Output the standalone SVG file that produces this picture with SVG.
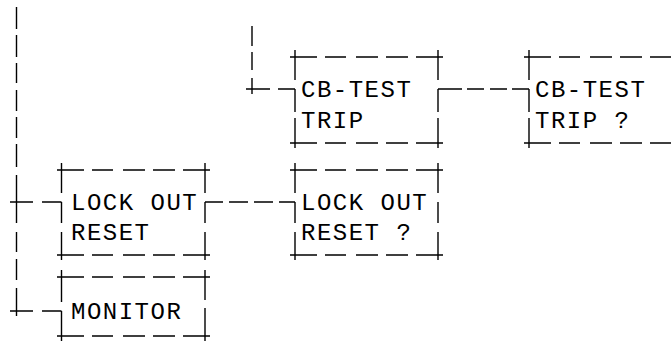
<svg xmlns="http://www.w3.org/2000/svg" width="671" height="341" viewBox="0 0 671 341">
<style>
.ln{fill:none;stroke:#000;stroke-width:1.4}
.t{font-family:"Liberation Mono","DejaVu Sans Mono",monospace;font-size:24px;letter-spacing:1.5px;fill:#000}
</style>
<rect width="671" height="341" fill="#fff"/>
<g id="connectors">
<path class="ln" d="M16.5 7V29M16.5 35V57M16.5 63V83M16.5 90V111M16.5 117V138M16.5 144V167M16.5 175V223M16.5 232V252M16.5 259V280M16.5 288V316"/>
<path class="ln" d="M10 202H33M42 202H61.5"/>
<path class="ln" d="M10 311H33M42 311H61.5"/>
<path class="ln" d="M252 26V46M252 52V70M252 78V94M246 89H270M278 89H295"/>
<path class="ln" d="M205 202H223M229 202H248M254 202H273M279 202H295"/>
<path class="ln" d="M438 89H462M467 89H484M490 89H507M512 89H529"/>
</g>
<g id="lockout-reset">
<path class="ln" d="M57 170H84M92 170H113M123 170H145M153 170H175M183 170H210M57 255H84M92 255H113M123 255H145M153 255H175M183 255H210M61.5 163V193M61.5 202V223M61.5 232V260M205 163V193M205 202V223M205 232V260"/>
<text class="t" x="71" y="210">LOCK OUT</text>
<text class="t" x="71" y="240">RESET</text>
</g>
<g id="monitor">
<path class="ln" d="M57 277H84M92 277H113M123 277H145M153 277H175M183 277H210M57 336H84M92 336H113M123 336H145M153 336H175M183 336H210M61.5 270V302M61.5 311V341M205 270V300M205 308V341"/>
<text class="t" x="71" y="319">MONITOR</text>
</g>
<g id="lockout-reset-q">
<path class="ln" d="M290 170H317M325 170H346M356 170H378M386 170H408M416 170H443M290 255H317M325 255H346M356 255H378M386 255H408M416 255H443M295 163V193M295 202V223M295 232V260M438 163V193M438 202V223M438 232V260"/>
<text class="t" x="301" y="210">LOCK OUT</text>
<text class="t" x="301" y="240">RESET ?</text>
</g>
<g id="cb-test-trip">
<path class="ln" d="M290 57H317M325 57H346M356 57H378M386 57H408M416 57H443M290 143H317M325 143H346M356 143H378M386 143H408M416 143H443M295 50V80M295 89V112M295 118V148M438 50V80M438 89V112M438 118V148"/>
<text class="t" x="301" y="97">CB-TEST</text>
<text class="t" x="301" y="128">TRIP</text>
</g>
<g id="cb-test-trip-q">
<path class="ln" d="M524 57H551M559 57H580M590 57H612M620 57H642M650 57H671M524 143H551M559 143H580M590 143H612M620 143H642M650 143H671M529 50V80M529 89V112M529 118V148"/>
<text class="t" x="535" y="97">CB-TEST</text>
<text class="t" x="535" y="128">TRIP ?</text>
</g>
</svg>
